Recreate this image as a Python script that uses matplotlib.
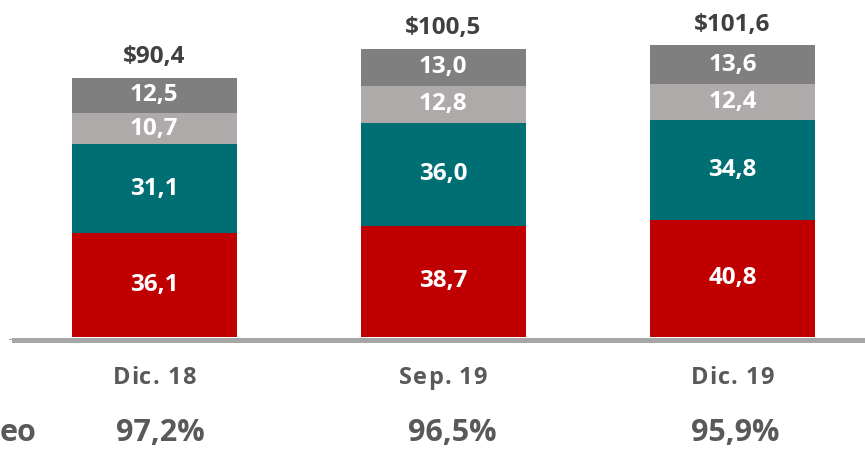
import matplotlib
matplotlib.use("Agg")
import matplotlib.pyplot as plt
from matplotlib.lines import Line2D
from matplotlib.font_manager import FontProperties
import numpy as np

plt.rcParams['font.family'] = ['Open Sans', 'DejaVu Sans']

categories = ["Dic. 18", "Sep. 19", "Dic. 19"]
seg1 = [36.1, 38.7, 40.8]
seg2 = [31.1, 36.0, 34.8]
seg3 = [10.7, 12.8, 12.4]
seg4 = [12.5, 13.0, 13.6]
totals = ["$90,4", "$100,5", "$101,6"]
ratios = ["97,2%", "96,5%", "95,9%"]

colors = ["#C00000", "#006F74", "#AEAAA9", "#7F7F7F"]
W, H = 865, 450
fig = plt.figure(figsize=(W / 100, H / 100), dpi=100)
renderer = fig.canvas.get_renderer()

ax_left, ax_right = 14, 865
base_y = 337
ax = fig.add_axes([ax_left / W, (H - base_y) / H, (ax_right - ax_left) / W, base_y / H])
ax.set_xlim(-140 / 289, 2 + 132.5 / 289)
ax.set_ylim(0, base_y / 2.87)
ax.axis('off')

x = np.arange(len(categories))
bw = 165 / 289
bottom = np.zeros(len(categories))
for vals, c in zip([seg1, seg2, seg3, seg4], colors):
    vals = np.array(vals)
    ax.bar(x, vals, bw, bottom=bottom, color=c, edgecolor='none')
    for xi, b, v in zip(x, bottom, vals):
        ax.text(xi, b + v / 2, f"{v:.1f}".replace('.', ','), ha='center', va='center',
                color='white', fontsize=17.5, fontweight='bold')
    bottom = bottom + vals

for xi, top, t in zip(x, bottom, totals):
    ax.text(xi, top + 7.0, t, ha='center', va='center', color='#404040',
            fontsize=17.5, fontweight='bold')

# baseline axis
fig.add_artist(Line2D([14 / W, 1.0], [(H - 339.5) / H] * 2, color='#A6A6A6', lw=3.6))
fig.add_artist(Line2D([9 / W, 14 / W], [(H - 339) / H] * 2, color='#A6A6A6', lw=0.8))


def spaced_text(cx, cy, s, size, gap, color):
    prop = FontProperties(family=['Open Sans', 'DejaVu Sans'], weight='bold', size=size)
    widths = [renderer.get_text_width_height_descent(ch, prop, ismath=False)[0] for ch in s]
    total = sum(widths) + gap * (len(s) - 1)
    xpos = cx - total / 2
    for ch, w in zip(s, widths):
        fig.text(xpos / W, (H - cy) / H, ch, ha='left', va='center', color=color,
                 fontproperties=prop)
        xpos += w + gap


for xi, cat in zip(x, categories):
    xp = ax.transData.transform((xi, 0))[0]
    spaced_text(xp, 378, cat, 17, 1.0, '#595959')

ratio_x = [160, 452, 735]
for xp, r in zip(ratio_x, ratios):
    fig.text(xp / W, (H - 433) / H, r, ha='center', va='center', color='#595959',
             fontsize=22, fontweight='bold')

fig.text(0 / W, (H - 433) / H, "eo", ha='left', va='center', color='#595959',
         fontsize=22, fontweight='bold')

fig.savefig("out.png", dpi=100)
